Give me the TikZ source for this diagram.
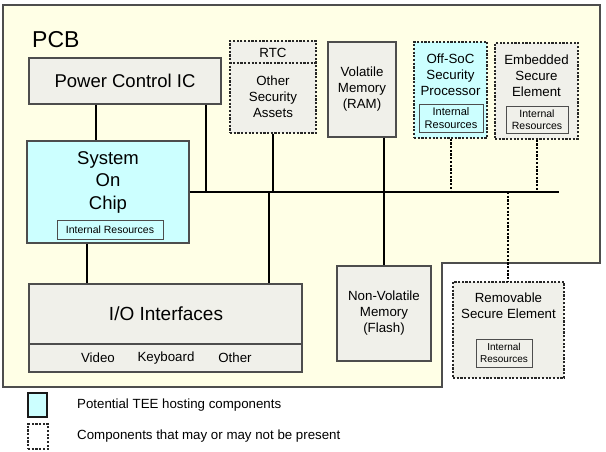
\documentclass[tikz,border=0pt]{standalone}
\usepackage{fontspec}
\setmainfont{Liberation Sans}
\definecolor{pcbfill}{RGB}{255,255,230}
\definecolor{boxfill}{RGB}{240,240,234}
\definecolor{teefill}{RGB}{204,255,255}
\definecolor{edge}{RGB}{77,77,77}
\begin{document}
\begin{tikzpicture}[x=1pt,y=-1pt,
 box/.style={draw=edge, line width=1.2pt, fill=boxfill, inner sep=0pt, align=center},
 optbox/.style={draw=black!85, line width=1.4pt, dash pattern=on 2.2pt off 1.5pt, fill=boxfill, inner sep=0pt},
 res/.style={draw=edge, line width=0.9pt, fill=boxfill, inner sep=0pt, align=center, font=\fontsize{10.5}{12.5}\selectfont},
 wire/.style={line width=1.2pt, black},
 optwire/.style={wire, dash pattern=on 2.2pt off 1.5pt},
 big/.style={font=\fontsize{18.5}{22.5}\selectfont, align=center, inner sep=0pt},
 txt/.style={font=\fontsize{13.3}{16}\selectfont, align=center, inner sep=0pt},
]
\useasboundingbox (0,0) rectangle (606,452);
% PCB outline
\draw[draw=edge, line width=1.2pt, fill=pcbfill] (3,5) -- (600,5) -- (600,263) -- (442,263) -- (442,387) -- (3,387) -- cycle;
\node[anchor=west, inner sep=0pt, font=\fontsize{23}{26}\selectfont] (pcb) at (32,40) {PCB};

% Power Control IC
\node[box, minimum width=192, minimum height=46, font=\fontsize{18.5}{22.5}\selectfont] (pow) at (125,81) {Power Control IC};

% SoC
\node[box, fill=teefill, minimum width=162, minimum height=102] (soc) at (108,192) {};
\node[big] (soctxt) at (108,182) {System\\On\\Chip};
\node[res, fill=teefill, minimum width=106, minimum height=19] (socres) at (110,229.5) {Internal Resources};

% RTC / Other security assets
\node[optbox, minimum width=86, minimum height=92] (rtc) at (273,87) {};
\coordinate (rtcdiv) at (273,63);
\draw[draw=black!85, line width=1.4pt, dash pattern=on 2.2pt off 1.5pt] (rtc.west |- rtcdiv) -- (rtc.east |- rtcdiv);
\node[txt] (rtctxt) at (273,52.5) {RTC};
\node[txt] (osa) at (273,97) {Other\\Security\\Assets};

% RAM
\node[box, minimum width=68, minimum height=95] (ram) at (362,89.5) {};
\node[txt] (ramtxt) at (362,89) {Volatile\\Memory\\(RAM)};

% Off-SoC security processor
\node[optbox, fill=teefill, minimum width=73, minimum height=96] (osp) at (450.5,90) {};
\node[txt] (osptxt) at (450.5,75) {Off-SoC\\Security\\Processor};
\node[res, fill=teefill, minimum width=64, minimum height=28, font=\fontsize{11}{12.5}\selectfont] (ospres) at (451,118) {Internal\\Resources};

% Embedded secure element
\node[optbox, minimum width=83, minimum height=96] (ese) at (536.5,91) {};
\node[txt] (esetxt) at (536.5,76) {Embedded\\Secure\\Element};
\node[res, minimum width=62, minimum height=27] (eseres) at (537,119.5) {Internal\\Resources};

% I/O interfaces
\node[box, minimum width=273, minimum height=88] (io) at (165.5,328) {};
\coordinate (iodiv) at (165.5,344);
\draw[draw=edge, line width=1.2pt] (io.west |- iodiv) -- (io.east |- iodiv);
\node[inner sep=0pt, font=\fontsize{19}{22}\selectfont] (iotxt) at (166,314) {I/O Interfaces};
\node[txt] (video) at (98,358) {Video};
\node[txt] (kbd) at (166,358) {Keyboard};
\node[txt] (other) at (235,358) {Other};

% Non-volatile memory
\node[box, minimum width=94, minimum height=95] (nvm) at (384,313.5) {};
\node[txt] (nvmtxt) at (384,313) {Non-Volatile\\Memory\\(Flash)};

% Removable secure element
\node[optbox, minimum width=111, minimum height=96] (rse) at (508.5,330) {};
\node[txt] (rsetxt) at (508.5,306) {Removable\\Secure Element};
\node[res, minimum width=56, minimum height=28, font=\fontsize{10}{12}\selectfont] (rseres) at (504,353) {Internal\\Resources};

% connectors
\coordinate (busE) at (559,192);
\coordinate (xa) at (96,0);
\coordinate (xb) at (206,192);
\coordinate (xc) at (273,192);
\coordinate (xd) at (269,192);
\coordinate (xe) at (384,0);
\coordinate (xf) at (451,192);
\coordinate (xg) at (537,192);
\coordinate (xh) at (508,192);
\coordinate (xi) at (87,0);
\draw[wire] (soc.east) -- (busE);
\draw[wire] (pow.south -| xa) -- (soc.north -| xa);
\draw[wire] (pow.south -| xb) -- (xb);
\draw[wire] (rtc.south -| xc) -- (xc);
\draw[wire] (xd) -- (io.north -| xd);
\draw[wire] (ram.south -| xe) -- (nvm.north -| xe);
\draw[wire] (soc.south -| xi) -- (io.north -| xi);
\draw[optwire] (osp.south -| xf) -- (xf);
\draw[optwire] (ese.south -| xg) -- (xg);
\draw[optwire] (xh) -- (rse.north -| xh);

% legend
\node[draw=black!90, line width=1.5pt, fill=teefill, minimum width=19, minimum height=24, inner sep=0pt] (legtee) at (37.5,405) {};
\node[draw=black!85, line width=1.4pt, dash pattern=on 2.2pt off 1.5pt, minimum width=20, minimum height=25, inner sep=0pt] (legopt) at (38,436.5) {};
\node[txt, anchor=west] (legteetxt) at (77,405) {Potential TEE hosting components};
\node[txt, anchor=west] (legopttxt) at (77,436) {Components that may or may not be present};
\end{tikzpicture}
\end{document}
